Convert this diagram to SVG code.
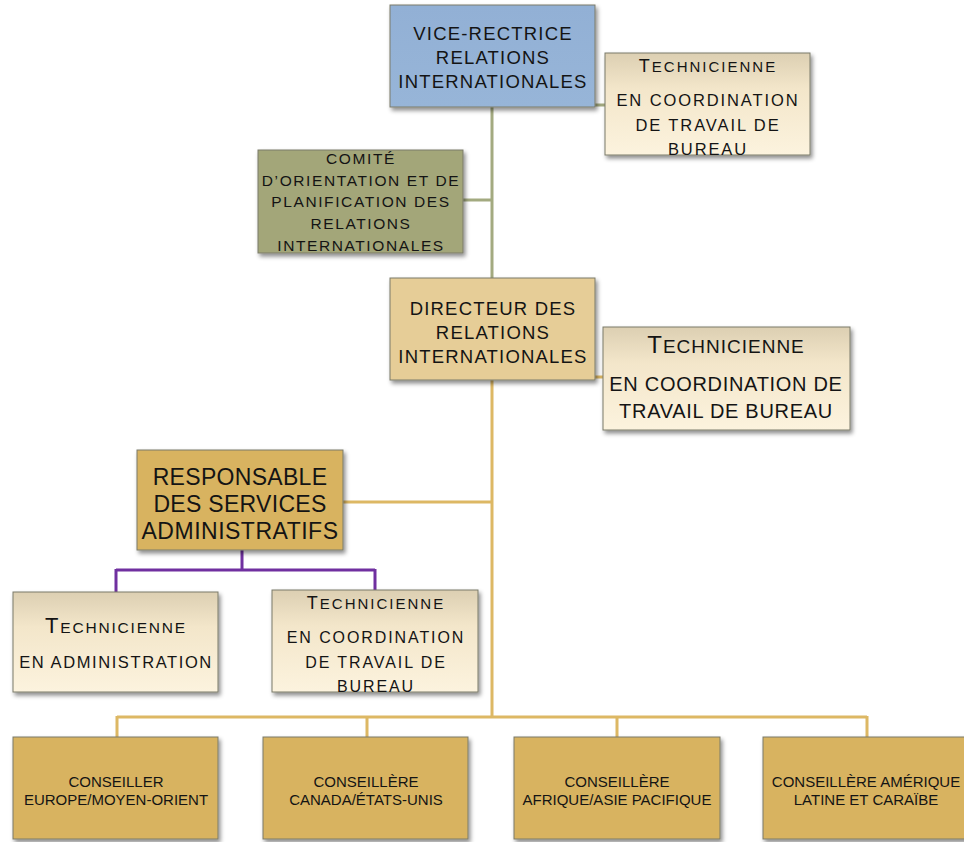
<svg xmlns="http://www.w3.org/2000/svg" width="964" height="842" viewBox="0 0 964 842">
<defs>
<linearGradient id="gTech" x1="0" y1="0" x2="0" y2="1">
<stop offset="0" stop-color="#DCCFB2"/>
<stop offset="0.35" stop-color="#F3E6CA"/>
<stop offset="1" stop-color="#FCF3DE"/>
</linearGradient>
<linearGradient id="gVice" x1="0" y1="0" x2="0" y2="1">
<stop offset="0" stop-color="#92B0D5"/>
<stop offset="1" stop-color="#97B5D8"/>
</linearGradient>
<filter id="sh" x="-10%" y="-10%" width="125%" height="130%">
<feDropShadow dx="2" dy="3" stdDeviation="2" flood-color="#000" flood-opacity="0.45"/>
</filter>
</defs>
<style>
.box{stroke:#7a7a6a;stroke-width:1;filter:url(#sh)}
.t{font-family:"Liberation Sans",Arial,sans-serif;fill:#141414;text-anchor:middle}
.big{font-size:18.5px;letter-spacing:1.2px}
.com{font-size:15.5px;letter-spacing:1.6px}
.tb{font-size:16.5px;letter-spacing:1.9px}
.bot{font-size:15px}
.lg{fill:none;stroke:#A3AA80;stroke-width:3}
.lo{fill:none;stroke:#DDB864;stroke-width:3}
.lp{fill:none;stroke:#7030A0;stroke-width:3}
</style>
<g id="connectors">
<path class="lg" d="M492 107V278M463 200H492M595 105H605"/>
<path class="lo" d="M492 380V717M343 502H492M595 377H603M117 717H867M117 716V737M367 716V737M617 716V737M867 716V737"/>
<path class="lp" d="M242 550V570M116 570H375M116 569V592M375 569V590"/>
</g>
<g id="vice">
<rect class="box" x="390" y="5" width="205" height="102" fill="url(#gVice)"/>
<text class="t big" x="493" y="40">VICE-RECTRICE</text>
<text class="t big" x="493" y="64">RELATIONS</text>
<text class="t big" x="493" y="88">INTERNATIONALES</text>
</g>
<g id="tech1">
<rect class="box" x="605" y="53" width="205" height="102" fill="url(#gTech)"/>
<text class="t" x="708" y="72" style="letter-spacing:2px"><tspan font-size="18">T</tspan><tspan font-size="15">ECHNICIENNE</tspan></text>
<text class="t tb" x="708" y="106">EN COORDINATION</text>
<text class="t tb" x="708" y="131">DE TRAVAIL DE</text>
<text class="t tb" x="708" y="155">BUREAU</text>
</g>
<g id="comite">
<rect class="box" x="258" y="150" width="205" height="103" fill="#A3A679"/>
<text class="t com" x="361" y="164">COMITÉ</text>
<text class="t com" x="361" y="186">D’ORIENTATION ET DE</text>
<text class="t com" x="361" y="207">PLANIFICATION DES</text>
<text class="t com" x="361" y="229">RELATIONS</text>
<text class="t com" x="361" y="251">INTERNATIONALES</text>
</g>
<g id="directeur">
<rect class="box" x="390" y="278" width="205" height="102" fill="#E6CD97"/>
<text class="t big" x="493" y="315">DIRECTEUR DES</text>
<text class="t big" x="493" y="339">RELATIONS</text>
<text class="t big" x="493" y="363">INTERNATIONALES</text>
</g>
<g id="tech2">
<rect class="box" x="603" y="327" width="247" height="103" fill="url(#gTech)"/>
<text class="t" x="726" y="353" style="letter-spacing:1px"><tspan font-size="24">T</tspan><tspan font-size="19">ECHNICIENNE</tspan></text>
<text class="t" x="726" y="391" style="font-size:20px;letter-spacing:0.7px">EN COORDINATION DE</text>
<text class="t" x="726" y="418" style="font-size:20px;letter-spacing:0.7px">TRAVAIL DE BUREAU</text>
</g>
<g id="responsable">
<rect class="box" x="137" y="450" width="206" height="100" fill="#D8B360"/>
<text class="t" x="240" y="485" style="font-size:23px;letter-spacing:0.3px">RESPONSABLE</text>
<text class="t" x="240" y="512" style="font-size:23px;letter-spacing:0.3px">DES SERVICES</text>
<text class="t" x="240" y="539" style="font-size:23px;letter-spacing:0.5px">ADMINISTRATIFS</text>
</g>
<g id="techAdmin">
<rect class="box" x="13" y="592" width="205" height="100" fill="url(#gTech)"/>
<text class="t" x="116" y="633" style="letter-spacing:1.8px"><tspan font-size="22">T</tspan><tspan font-size="15.5">ECHNICIENNE</tspan></text>
<text class="t" x="116" y="668" style="font-size:16.5px;letter-spacing:1.6px">EN ADMINISTRATION</text>
</g>
<g id="techCoord">
<rect class="box" x="272" y="590" width="206" height="102" fill="url(#gTech)"/>
<text class="t" x="376" y="609" style="letter-spacing:2px"><tspan font-size="18">T</tspan><tspan font-size="15">ECHNICIENNE</tspan></text>
<text class="t" x="376" y="643" style="font-size:16px;letter-spacing:1.9px">EN COORDINATION</text>
<text class="t" x="376" y="668" style="font-size:16px;letter-spacing:1.9px">DE TRAVAIL DE</text>
<text class="t" x="376" y="692" style="font-size:16px;letter-spacing:1.9px">BUREAU</text>
</g>
<g id="c1">
<rect class="box" x="13" y="737" width="205" height="102" fill="#D8B360"/>
<text class="t bot" x="116" y="787">CONSEILLER</text>
<text class="t bot" x="116" y="805">EUROPE/MOYEN-ORIENT</text>
</g>
<g id="c2">
<rect class="box" x="263" y="737" width="205" height="102" fill="#D8B360"/>
<text class="t bot" x="366" y="787">CONSEILLÈRE</text>
<text class="t bot" x="366" y="805">CANADA/ÉTATS-UNIS</text>
</g>
<g id="c3">
<rect class="box" x="514" y="737" width="206" height="102" fill="#D8B360"/>
<text class="t bot" x="617" y="787">CONSEILLÈRE</text>
<text class="t bot" x="617" y="805">AFRIQUE/ASIE PACIFIQUE</text>
</g>
<g id="c4">
<rect class="box" x="763" y="737" width="205" height="102" fill="#D8B360"/>
<text class="t bot" x="866" y="787">CONSEILLÈRE AMÉRIQUE</text>
<text class="t bot" x="866" y="805">LATINE ET CARAÏBE</text>
</g>
</svg>
